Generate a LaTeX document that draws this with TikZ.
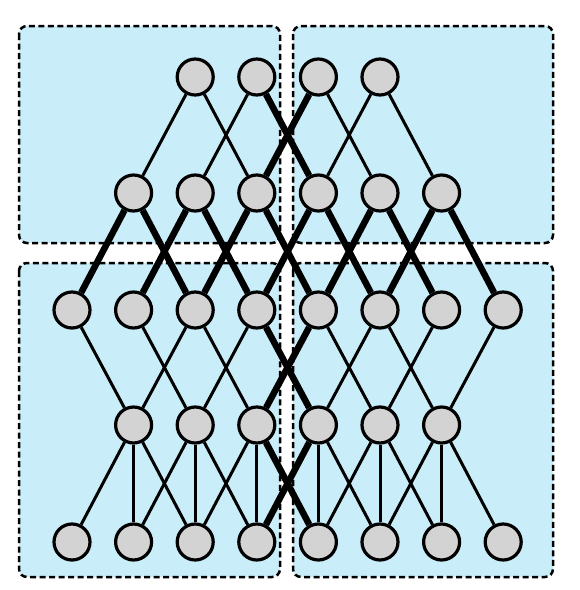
\documentclass[tikz,border=0pt]{standalone}
\definecolor{boxblue}{RGB}{201,238,250}
\definecolor{nodegray}{RGB}{211,211,211}
\pgfdeclarelayer{regions}
\pgfdeclarelayer{edges}
\pgfsetlayers{regions,edges,main}
\begin{document}
\begin{tikzpicture}[x=1pt,y=-1pt,
  region/.style={draw=black,fill=boxblue,line width=2.5pt,dash pattern=on 6pt off 3.5pt,rounded corners=8pt},
  unit/.style={circle,draw=black,fill=nodegray,line width=3.2pt,minimum size=36pt,inner sep=0pt},
  thin/.style={line width=3pt},
  thick/.style={line width=6.5pt}]
\useasboundingbox (0,0) rectangle (580,590);
\begin{pgfonlayer}{regions}
\fill[white] (0,0) rectangle (580,590);
\draw[region] (19,26) rectangle (280,243);
\draw[region] (293,26) rectangle (553,243);
\draw[region] (19,263) rectangle (280,577);
\draw[region] (293,263) rectangle (553,577);
\end{pgfonlayer}
% nodes
\foreach \k in {3,...,6} {\node[unit] (A\k) at ({72+(\k-1)*61.6},77) {};}
\foreach \k in {2,...,7} {\node[unit] (B\k) at ({72+(\k-1)*61.6},193) {};}
\foreach \k in {1,...,8} {\node[unit] (C\k) at ({72+(\k-1)*61.6},310) {};}
\foreach \k in {2,...,7} {\node[unit] (D\k) at ({72+(\k-1)*61.6},425) {};}
\foreach \k in {1,...,8} {\node[unit] (E\k) at ({72+(\k-1)*61.6},542) {};}
\begin{pgfonlayer}{edges}
% row 1 -> row 2
\draw[thin] (A3) -- (B2);
\draw[thin] (A3) -- (B4);
\draw[thin] (A4) -- (B3);
\draw[thick] (A4) -- (B5);
\draw[thick] (A5) -- (B4);
\draw[thin] (A5) -- (B6);
\draw[thin] (A6) -- (B5);
\draw[thin] (A6) -- (B7);
% row 2 -> row 3
\draw[thick] (B2) -- (C1);
\draw[thick] (B2) -- (C3);
\draw[thick] (B3) -- (C2);
\draw[thick] (B3) -- (C4);
\draw[thick] (B4) -- (C3);
\draw[thick] (B4) -- (C5);
\draw[thick] (B5) -- (C4);
\draw[thick] (B5) -- (C6);
\draw[thick] (B6) -- (C5);
\draw[thick] (B6) -- (C7);
\draw[thick] (B7) -- (C6);
\draw[thick] (B7) -- (C8);
% row 3 -> row 4
\draw[thin] (C1) -- (D2);
\draw[thin] (C2) -- (D3);
\draw[thin] (C3) -- (D2);
\draw[thin] (C3) -- (D4);
\draw[thin] (C4) -- (D3);
\draw[thick] (C4) -- (D5);
\draw[thick] (C5) -- (D4);
\draw[thin] (C5) -- (D6);
\draw[thin] (C6) -- (D5);
\draw[thin] (C6) -- (D7);
\draw[thin] (C7) -- (D6);
\draw[thin] (C8) -- (D7);
% row 4 -> row 5
\draw[thin] (D2) -- (E1);
\draw[thin] (D2) -- (E2);
\draw[thin] (D2) -- (E3);
\draw[thin] (D3) -- (E2);
\draw[thin] (D3) -- (E3);
\draw[thin] (D3) -- (E4);
\draw[thin] (D4) -- (E3);
\draw[thin] (D4) -- (E4);
\draw[thick] (D4) -- (E5);
\draw[thick] (D5) -- (E4);
\draw[thin] (D5) -- (E5);
\draw[thin] (D5) -- (E6);
\draw[thin] (D6) -- (E5);
\draw[thin] (D6) -- (E6);
\draw[thin] (D6) -- (E7);
\draw[thin] (D7) -- (E6);
\draw[thin] (D7) -- (E7);
\draw[thin] (D7) -- (E8);
\end{pgfonlayer}
\end{tikzpicture}
\end{document}
